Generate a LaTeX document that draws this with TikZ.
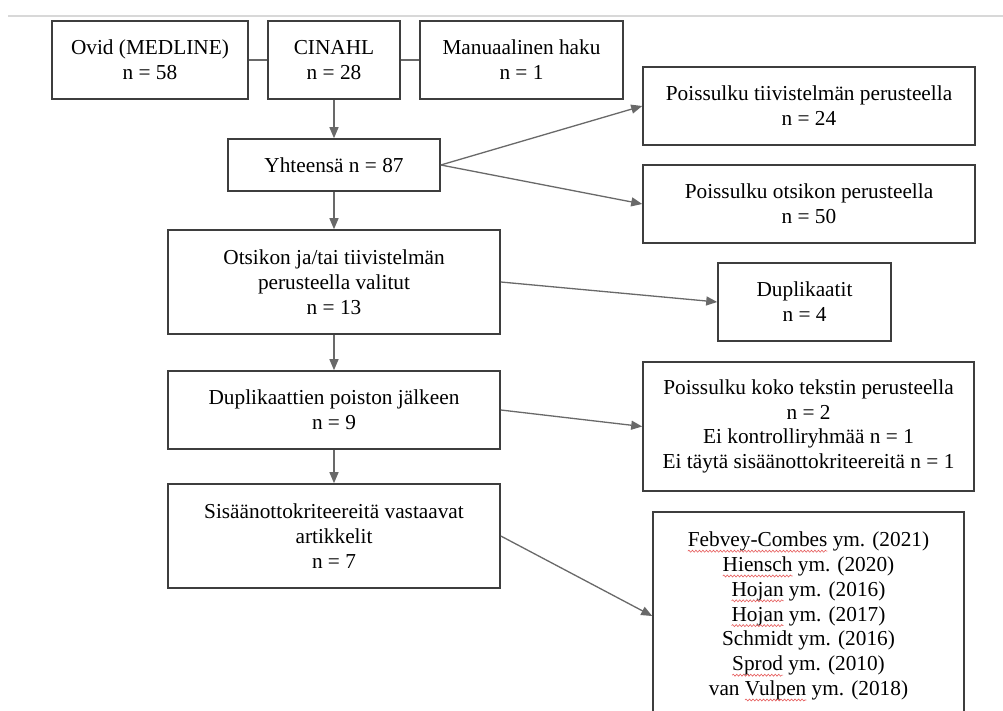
\documentclass[tikz,border=0pt]{standalone}
\usepackage{fontspec}
\setmainfont{Liberation Serif}
\usetikzlibrary{arrows.meta,decorations.pathmorphing}
\definecolor{boxline}{RGB}{62,62,62}
\definecolor{arrline}{RGB}{105,105,105}
\definecolor{topline}{RGB}{216,216,216}
\definecolor{wavered}{RGB}{230,90,90}
\newcommand\redwave[1]{\tikz[baseline=(w.base),x=1pt,y=1pt]{\node[draw=none,fill=none,inner sep=0pt,outer sep=0pt,minimum width=0pt,minimum height=0pt,anchor=base] (w) {#1};\draw[overlay,wavered,line width=0.6pt,decorate,decoration={snake,amplitude=1pt,segment length=3.5pt}] ([yshift=-4.5pt]w.base west) -- ([yshift=-4.5pt]w.base east);}}
\tikzset{
  box/.style={draw=boxline, line width=1.6pt, fill=white, inner sep=0pt, align=center,
    font=\fontsize{21.3}{24.8}\selectfont, text=black},
  arr/.style={draw=arrline, line width=1.3pt, -{Triangle[length=11pt,width=9pt]}},
  link/.style={draw=arrline, line width=1.3pt},
}
\begin{document}
\begin{tikzpicture}[x=1pt,y=-1pt]
\path[use as bounding box] (0,0) rectangle (1003,711);
\clip (0,0) rectangle (1003,711);
\fill[white] (0,0) rectangle (1003,711);
\coordinate (tl) at (8,16);
\coordinate (tr) at (1003,16);
\draw[topline, line width=1.8pt] (tl) -- (tr);

\node[box, minimum width=196pt, minimum height=78pt] (ovid) at (150,60) {Ovid (MEDLINE)\\n = 58};
\node[box, minimum width=132pt, minimum height=78pt] (cinahl) at (334,60) {CINAHL\\n = 28};
\node[box, minimum width=203pt, minimum height=78pt] (manual) at (521.5,60) {Manuaalinen haku\\n = 1};

\node[box, minimum width=212pt, minimum height=52pt] (yht) at (334,165) {Yhteensä n = 87};
\node[box, minimum width=332pt, minimum height=78pt] (pt) at (809,106) {Poissulku tiivistelmän perusteella\\n = 24};
\node[box, minimum width=332pt, minimum height=78pt] (po) at (809,204) {Poissulku otsikon perusteella\\n = 50};

\node[box, minimum width=332pt, minimum height=104pt] (ots) at (334,282) {Otsikon ja/tai tiivistelmän\\perusteella valitut\\n = 13};
\node[box, minimum width=173pt, minimum height=78pt] (dup) at (804.5,302) {Duplikaatit\\n = 4};

\node[box, minimum width=332pt, minimum height=78pt] (dpj) at (334,410) {Duplikaattien poiston jälkeen\\n = 9};
\node[box, minimum width=331pt, minimum height=129pt] (pk) at (808.5,426.5) {Poissulku koko tekstin perusteella\\n = 2\\Ei kontrolliryhmää n = 1\\Ei täytä sisäänottokriteereitä n = 1};

\node[box, minimum width=332pt, minimum height=104pt] (sis) at (334,536) {Sisäänottokriteereitä vastaavat\\artikkelit\\n = 7};
\node[box, minimum width=311pt, minimum height=208pt] (fin) at (808.5,616) {\redwave{Febvey-Combes} ym. (2021)\\\redwave{Hiensch} ym. (2020)\\\redwave{Hojan} ym. (2016)\\\redwave{Hojan} ym. (2017)\\Schmidt ym. (2016)\\\redwave{Sprod} ym. (2010)\\van \redwave{Vulpen} ym. (2018)};

\draw[link] (ovid.east) -- (cinahl.west);
\draw[link] (cinahl.east) -- (manual.west);
\draw[arr] (cinahl.south) -- (yht.north);
\draw[arr] (yht.east) -- (pt.west);
\draw[arr] (yht.east) -- (po.west);
\draw[arr] (yht.south) -- (ots.north);
\draw[arr] (ots.east) -- (dup.west);
\draw[arr] (ots.south) -- (dpj.north);
\draw[arr] (dpj.east) -- (pk.west);
\draw[arr] (dpj.south) -- (sis.north);
\draw[arr] (sis.east) -- (fin.west);
\end{tikzpicture}
\end{document}
